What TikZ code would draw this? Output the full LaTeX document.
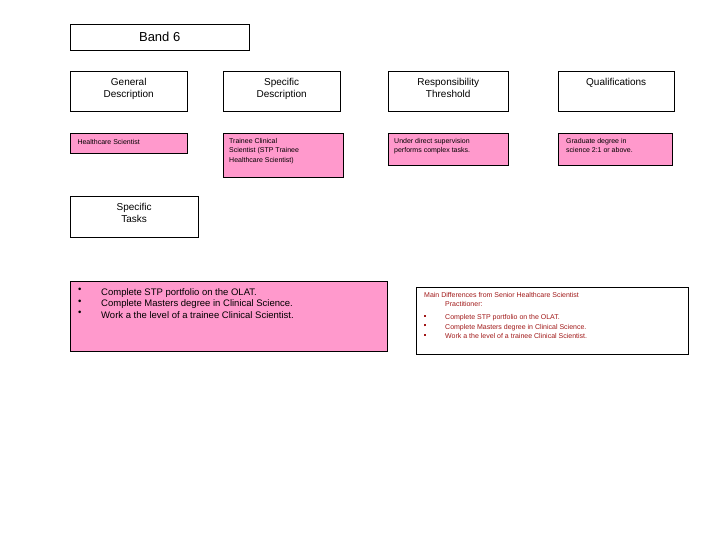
\documentclass[tikz,border=0pt]{standalone}
\usepackage{fontspec}
\setmainfont{Liberation Sans}
\definecolor{pinkfill}{HTML}{FF99CC}
\definecolor{darkred}{HTML}{A01818}
\begin{document}
\begin{tikzpicture}[x=1pt,y=-1pt,
  hbox/.style={draw,thin,align=center,anchor=north west,inner sep=0pt,font=\fontsize{10}{12}\selectfont},
  pbox/.style={draw,thin,fill=pinkfill,anchor=north west,inner sep=0pt}]
\useasboundingbox (0,0) rectangle (720,540);
\node[hbox,minimum width=179pt,minimum height=26pt,font=\fontsize{13}{15}\selectfont] (band) at (70,24) {Band 6};
\node[hbox,minimum width=117pt,minimum height=40pt,anchor=north west] (gd) at (70,71) {};
\node[font=\fontsize{10}{12}\selectfont,align=center,anchor=north] (gdt) at (gd.north) [yshift=-4pt] {General\\Description};
\node[hbox,minimum width=117pt,minimum height=40pt] (sd) at (223,71) {};
\node[font=\fontsize{10}{12}\selectfont,align=center,anchor=north] (sdt) at (sd.north) [yshift=-4pt] {Specific\\Description};
\node[hbox,minimum width=120pt,minimum height=40pt] (rt) at (388,71) {};
\node[font=\fontsize{10}{12}\selectfont,align=center,anchor=north] (rtt) at (rt.north) [yshift=-4pt] {Responsibility\\Threshold};
\node[hbox,minimum width=116pt,minimum height=40pt] (q) at (558,71) {};
\node[font=\fontsize{10}{12}\selectfont,align=center,anchor=north] (qt) at (q.north) [yshift=-4pt] {Qualifications};

\node[pbox,minimum width=117pt,minimum height=20pt] (hs) at (70,133) {};
\node[font=\fontsize{7}{9}\selectfont,anchor=north west] (hst) at (74,136) {Healthcare Scientist};
\node[pbox,minimum width=120pt,minimum height=44pt] (tc) at (223,133) {};
\node[font=\fontsize{7}{9.5}\selectfont,anchor=north west,align=left,inner sep=0pt] (tct) at (229,138) {Trainee Clinical\\Scientist (STP Trainee\\Healthcare Scientist)};
\node[pbox,minimum width=120pt,minimum height=32pt] (ud) at (388,133) {};
\node[font=\fontsize{7}{9.5}\selectfont,anchor=north west,align=left,inner sep=0pt] (udt) at (394,138) {Under direct supervision\\performs complex tasks.};
\node[pbox,minimum width=114pt,minimum height=32pt] (gr) at (558,133) {};
\node[font=\fontsize{7}{9.5}\selectfont,anchor=north west,align=left,inner sep=0pt] (grt) at (566,138) {Graduate degree in\\science 2:1 or above.};

\node[hbox,minimum width=128pt,minimum height=41pt] (st) at (70,196) {};
\node[font=\fontsize{10}{12}\selectfont,align=center,anchor=north] (stt) at (st.north) [yshift=-4pt] {Specific\\Tasks};

\node[pbox,minimum width=317pt,minimum height=70pt] (tasks) at (70,281) {};
\node[font=\fontsize{9.5}{11.5}\selectfont,anchor=north west,align=left,inner sep=0pt] (tb) at (78,288) {•\\•\\•};
\node[font=\fontsize{9.5}{11.5}\selectfont,anchor=north west,align=left,inner sep=0pt] (tt) at (101,288) {Complete STP portfolio on the OLAT.\\Complete Masters degree in Clinical Science.\\Work a the level of a trainee Clinical Scientist.};

\node[draw,thin,anchor=north west,minimum width=272pt,minimum height=67pt,inner sep=0pt] (md) at (416,287) {};
\node[font=\fontsize{7}{9.5}\selectfont,text=darkred,anchor=north west,align=left,inner sep=0pt] (mdt) at (424,292) {Main Differences from Senior Healthcare Scientist\\\hspace*{21pt}Practitioner:};
\node[font=\fontsize{7}{9.5}\selectfont,text=darkred,anchor=north west,align=left,inner sep=0pt] (mdb) at (424,314.5) {\rule[1pt]{2.2pt}{2.2pt}\\\rule[1pt]{2.2pt}{2.2pt}\\\rule[1pt]{2.2pt}{2.2pt}};
\node[font=\fontsize{7}{9.5}\selectfont,text=darkred,anchor=north west,align=left,inner sep=0pt] (mdl) at (445,314.5) {Complete STP portfolio on the OLAT.\\Complete Masters degree in Clinical Science.\\Work a the level of a trainee Clinical Scientist.};
\end{tikzpicture}
\end{document}
